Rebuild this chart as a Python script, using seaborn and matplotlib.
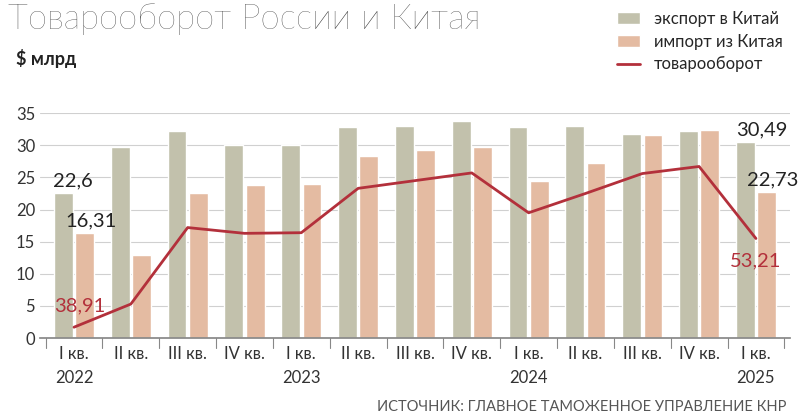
import matplotlib
matplotlib.use("Agg")
import matplotlib.pyplot as plt
import seaborn as sns
import pandas as pd
import numpy as np

quarters = ["I кв.", "II кв.", "III кв.", "IV кв.", "I кв.", "II кв.", "III кв.",
            "IV кв.", "I кв.", "II кв.", "III кв.", "IV кв.", "I кв."]
years = {0: "2022", 4: "2023", 8: "2024", 12: "2025"}
export = [22.6, 29.7, 32.2, 30.0, 30.0, 32.8, 33.0, 33.8, 32.8, 33.0, 31.8, 32.2, 30.49]
imports = [16.31, 13.0, 22.5, 23.8, 24.0, 28.3, 29.2, 29.7, 24.5, 27.3, 31.6, 32.4, 22.73]
# turnover line as drawn in the original (offset scale)
turnover_plot = [1.7, 5.3, 17.2, 16.3, 16.4, 23.3, 24.5, 25.7, 19.5, 22.5, 25.6, 26.7, 15.5]

sns.set_theme(style="white")
plt.rcParams['font.family'] = ['Lato', 'DejaVu Sans']

c_exp, c_imp, c_line = "#c6c4a8", "#efb897", "#b3303b"

df = pd.DataFrame({"idx": list(range(13)) * 2,
                   "value": export + imports,
                   "kind": ["экспорт в Китай"] * 13 + ["импорт из Китая"] * 13})

fig = plt.figure(figsize=(7.98, 4.19), dpi=100)
ax = fig.add_axes([0.05, 0.193, 0.94, 0.537])
ax.set_axisbelow(True)
ax.yaxis.grid(True, color="#d0d0d0", lw=0.8)
sns.barplot(data=df, x="idx", y="value", hue="kind", palette=[c_exp, c_imp],
            width=0.75, gap=0.12, ax=ax)
x = np.arange(13)
ax.plot(x, turnover_plot, color=c_line, lw=2, label="товарооборот")

ax.set_ylim(0, 35)
ax.set_xlim(-0.6, 12.6)
ax.set_yticks(range(0, 36, 5))
ax.tick_params(axis="y", labelsize=12, colors="#333333", length=0)
ax.set_xticks(x)
ax.set_xticklabels(quarters, fontsize=12, color="#333333")
ax.tick_params(axis="x", length=0, pad=6)
for s in ["top", "right", "left"]:
    ax.spines[s].set_visible(False)
ax.spines["bottom"].set_color("#888888")
ax.set_xlabel("")
ax.set_ylabel("")
for i in range(14):
    ax.plot([i - 0.5, i - 0.5], [0, -1.6], color="#888888", lw=0.8, clip_on=False)
for i, y in years.items():
    ax.text(i, -6.2, y, ha="center", va="center", fontsize=12, color="#333333")

lab = dict(fontsize=14.5, color="#222222", va="bottom")
ax.text(-0.02, 23.2, "22,6", ha="center", **lab)
ax.text(0.3, 16.9, "16,31", ha="center", **lab)
ax.text(12.55, 31.0, "30,49", ha="right", **lab)
ax.text(12.75, 23.3, "22,73", ha="right", **lab)
ax.text(0.1, 5.0, "38,91", ha="center", va="center", fontsize=14.5, color=c_line)
ax.text(12.0, 12.0, "53,21", ha="center", va="center", fontsize=14.5, color=c_line)

ax.legend(loc="upper right", bbox_to_anchor=(1.01, 1.52), frameon=False,
          fontsize=12, handlelength=1.4, labelspacing=0.4)

fig.text(0.01, 0.93, "Товарооборот России и Китая", fontsize=25, color="#333333",
         fontweight="light")
fig.text(0.02, 0.845, "$ млрд", fontsize=13, fontweight="bold", color="#222222")
fig.text(0.985, 0.02, "ИСТОЧНИК: ГЛАВНОЕ ТАМОЖЕННОЕ УПРАВЛЕНИЕ КНР", ha="right",
         fontsize=10.5, color="#555555")

fig.savefig("out.png", dpi=100)
